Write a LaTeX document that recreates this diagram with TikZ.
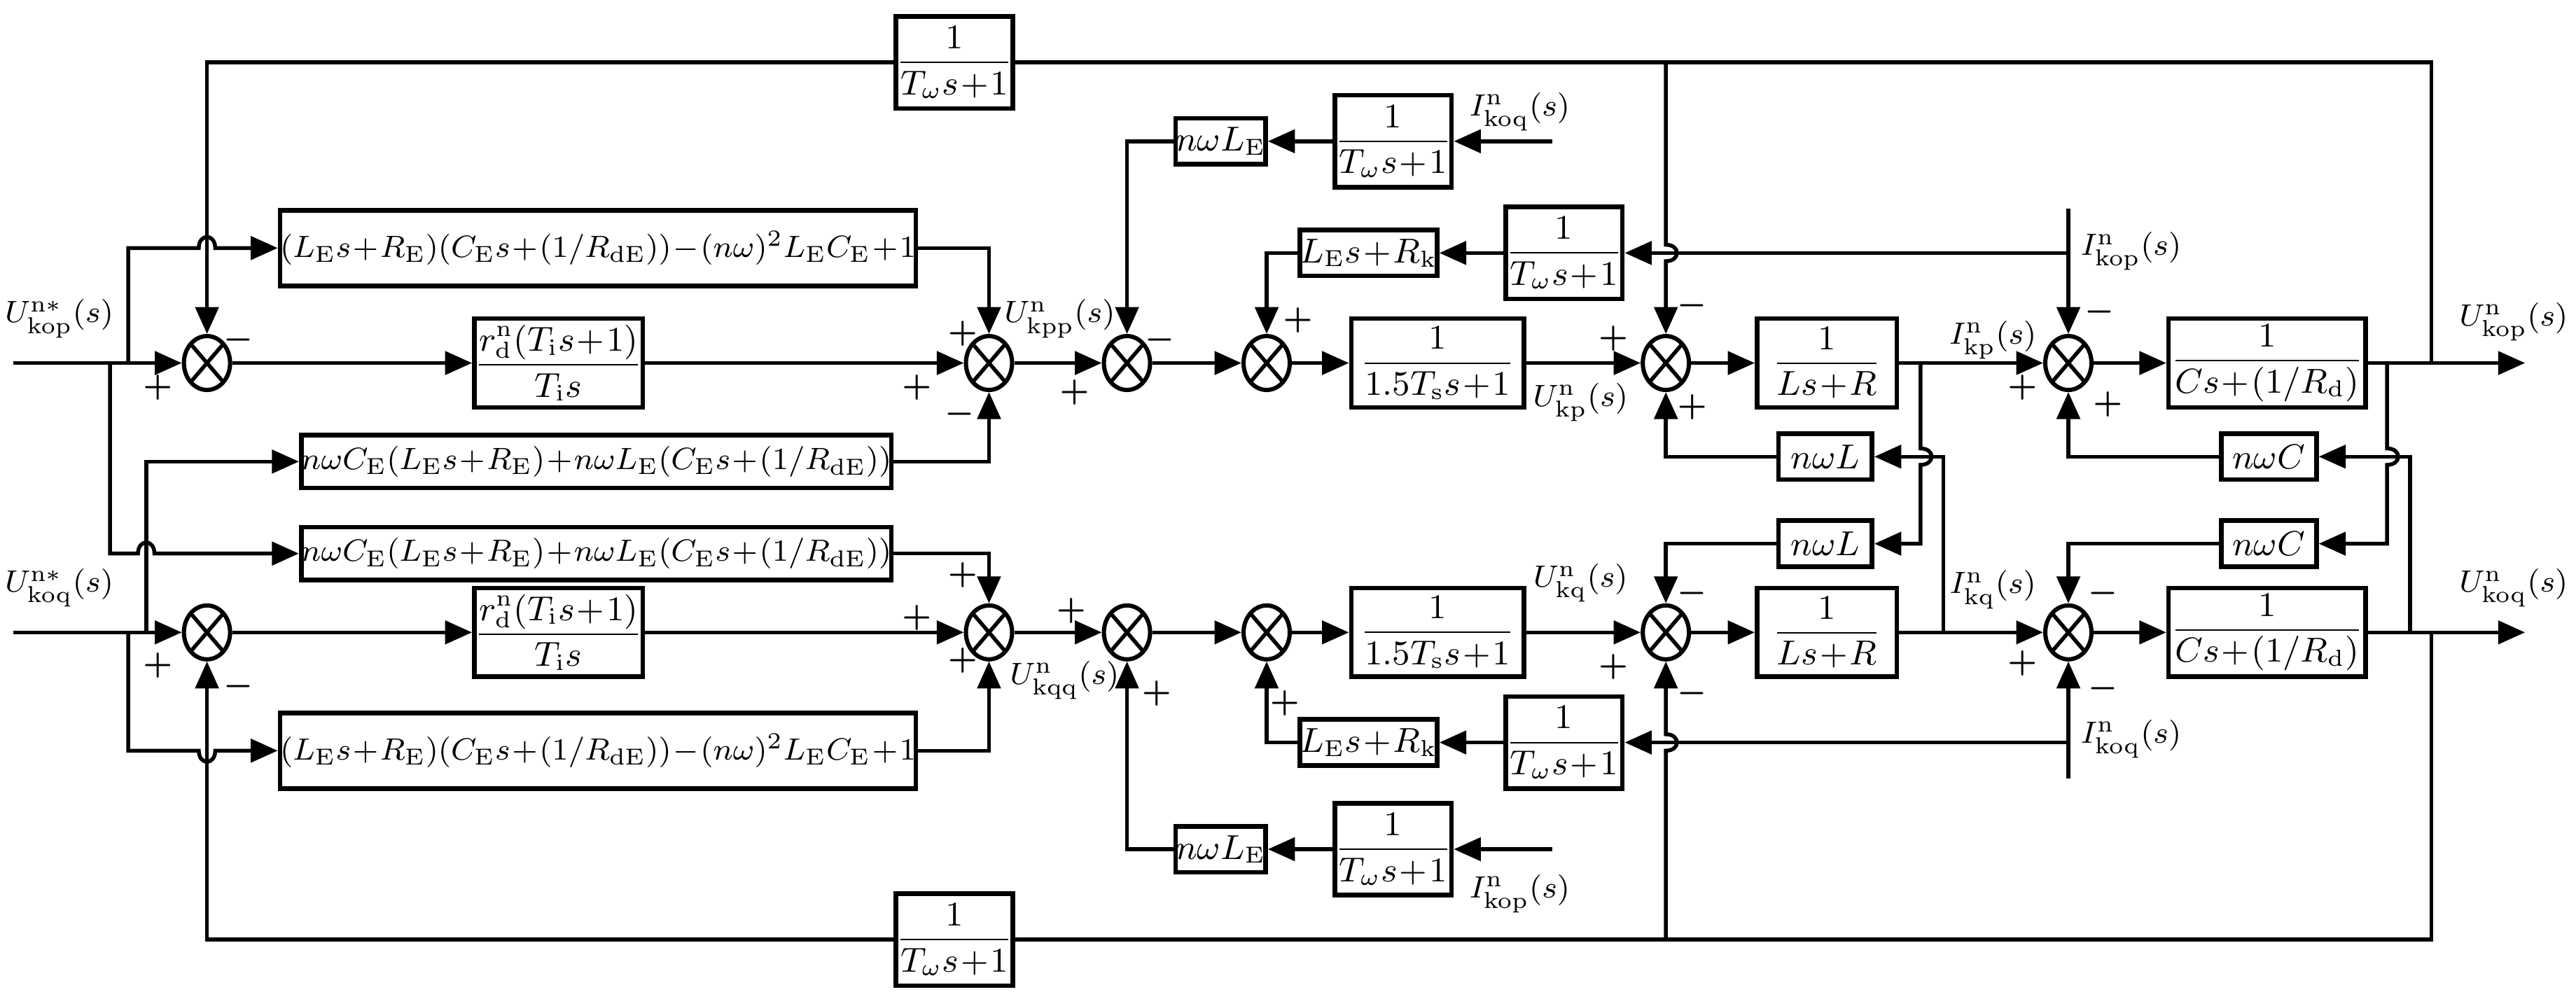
\documentclass[tikz,border=0pt]{standalone}
\usepackage{amsmath,amsbsy}
\usetikzlibrary{arrows.meta,shapes.geometric}
\medmuskip=1mu \thickmuskip=1.5mu
\begin{document}
\begin{tikzpicture}[x=0.015cm,y=-0.015cm,
 line width=1pt, >={Triangle[length=7pt,width=6pt]},
 every node/.style={font=\small},
 blk/.style 2 args={draw,rectangle,inner sep=0pt,line width=1.2pt,minimum width=#1*0.015cm,minimum height=#2*0.015cm},
 wide/.style={font=\footnotesize},
 lab/.style={font=\footnotesize,inner sep=1pt},
 sum/.style={draw,ellipse,minimum width=12pt,minimum height=14pt,inner sep=0pt,line width=1.1pt,
   path picture={\draw[line width=1pt] (path picture bounding box.north west)--(path picture bounding box.south east) (path picture bounding box.south west)--(path picture bounding box.north east);}},
 sg/.style={font=\bfseries\footnotesize,inner sep=0pt}]
\useasboundingbox (0,0) rectangle (1568,608);
% sums
\foreach \n/\x in {1/126,2/602,3/686,4/771,5/1014,6/1259}{
  \node[sum] (s\n P) at (\x,221) {};
  \node[sum] (s\n Q) at (\x,385) {};
}
% blocks
\node[blk={67}{56}] (twT) at (581,38) {$\dfrac{1}{T_\omega s+1}$};
\node[blk={67}{56}] (twB) at (581,572) {$\dfrac{1}{T_\omega s+1}$};
\node[blk={362}{46},wide] (eAP) at (364,151) {$(L_\mathrm{E}s+R_\mathrm{E})(C_\mathrm{E}s+(1/R_\mathrm{dE}))-(n\omega)^2L_\mathrm{E}C_\mathrm{E}+1$};
\node[blk={362}{46},wide] (eAQ) at (364,457) {$(L_\mathrm{E}s+R_\mathrm{E})(C_\mathrm{E}s+(1/R_\mathrm{dE}))-(n\omega)^2L_\mathrm{E}C_\mathrm{E}+1$};
\node[blk={337}{32},wide] (eBP) at (363,281) {$n\omega C_\mathrm{E}(L_\mathrm{E}s+R_\mathrm{E})+n\omega L_\mathrm{E}(C_\mathrm{E}s+(1/R_\mathrm{dE}))$};
\node[blk={337}{32},wide] (eBQ) at (363,337) {$n\omega C_\mathrm{E}(L_\mathrm{E}s+R_\mathrm{E})+n\omega L_\mathrm{E}(C_\mathrm{E}s+(1/R_\mathrm{dE}))$};
\foreach \r/\y in {P/221,Q/385}{
  \node[blk={89}{54}] (ri\r) at (340,\y) {$\dfrac{r_\mathrm{d}^\mathrm{n}(T_\mathrm{i}s+1)}{T_\mathrm{i}s}$};
  \node[blk={105}{54}] (ts\r) at (875,\y) {$\dfrac{1}{1.5T_\mathrm{s}s+1}$};
  \node[blk={85}{54}] (L\r) at (1112,\y) {$\dfrac{1}{Ls+R}$};
  \node[blk={120}{54}] (C\r) at (1380,\y) {$\dfrac{1}{Cs+(1/R_\mathrm{d})}$};
}
\node[blk={47}{28}] (nLEP) at (743,86) {$n\omega L_\mathrm{E}$};
\node[blk={70}{56}] (twIP) at (848,86) {$\dfrac{1}{T_\omega s+1}$};
\node[blk={73}{28}] (RkP) at (833,154) {$L_\mathrm{E}s+R_\mathrm{k}$};
\node[blk={65}{56}] (twkP) at (952,154) {$\dfrac{1}{T_\omega s+1}$};
\node[blk={73}{28}] (RkQ) at (833,452) {$L_\mathrm{E}s+R_\mathrm{k}$};
\node[blk={65}{56}] (twkQ) at (952,452) {$\dfrac{1}{T_\omega s+1}$};
\node[blk={47}{28}] (nLEQ) at (743,517) {$n\omega L_\mathrm{E}$};
\node[blk={70}{56}] (twIQ) at (848,517) {$\dfrac{1}{T_\omega s+1}$};
\node[blk={57}{28}] (nLP) at (1111,278) {$n\omega L$};
\node[blk={57}{28}] (nLQ) at (1111,331) {$n\omega L$};
\node[blk={58}{28}] (nCP) at (1381,278) {$n\omega C$};
\node[blk={58}{28}] (nCQ) at (1381,331) {$n\omega C$};
\coordinate (inP) at (8,221); \coordinate (inQ) at (8,385);
\coordinate (outP) at (1537,221); \coordinate (outQ) at (1537,385);
\coordinate (iqP) at (945,86); \coordinate (ipQ) at (945,517);
% main chains
\foreach \r in {P,Q}{
  \draw[->] (in\r) -- (s1\r.west);
  \draw[->] (s1\r.east) -- (ri\r.west);
  \draw[->] (ri\r.east) -- (s2\r.west);
  \draw[->] (s2\r.east) -- (s3\r.west);
  \draw[->] (s3\r.east) -- (s4\r.west);
  \draw[->] (s4\r.east) -- (ts\r.west);
  \draw[->] (ts\r.east) -- (s5\r.west);
  \draw[->] (s5\r.east) -- (L\r.west);
  \draw[->] (L\r.east) -- (s6\r.west);
  \draw[->] (s6\r.east) -- (C\r.west);
  \draw[->] (C\r.east) -- (out\r);
}
% left taps
\draw[->] (78,221) -- (78,151) -- (121,151) .. controls (121,142) and (131,142) .. (131,151) -- (eAP.west);
\draw[->] (67,221) -- (67,337) -- (84,337) .. controls (84,328) and (94,328) .. (94,337) -- (eBQ.west);
\draw[->] (89,385) -- (89,281) -- (eBP.west);
\draw[->] (78,385) -- (78,457) -- (121,457) .. controls (121,466) and (131,466) .. (131,457) -- (eAQ.west);
\draw[->] (eAP.east) -- (602,151) -- (s2P.north);
\draw[->] (eBP.east) -- (602,281) -- (s2P.south);
\draw[->] (eBQ.east) -- (602,337) -- (s2Q.north);
\draw[->] (eAQ.east) -- (602,457) -- (s2Q.south);
% outer feedback
\draw (1480,221) -- (1480,38) -- (twT.east);
\draw[->] (twT.west) -- (126,38) -- (s1P.north);
\draw (1480,385) -- (1480,572) -- (twB.east);
\draw[->] (twB.west) -- (126,572) -- (s1Q.south);
\draw[->] (1014,38) -- (1014,149) .. controls (1023,149) and (1023,159) .. (1014,159) -- (s5P.north);
\draw[->] (1014,572) -- (1014,457) .. controls (1023,457) and (1023,447) .. (1014,447) -- (s5Q.south);
% decoupling
\draw[->] (iqP) -- (twIP.east);
\draw[->] (twIP.west) -- (nLEP.east);
\draw[->] (nLEP.west) -- (686,86) -- (s3P.north);
\draw[->] (ipQ) -- (twIQ.east);
\draw[->] (twIQ.west) -- (nLEQ.east);
\draw[->] (nLEQ.west) -- (686,517) -- (s3Q.south);
\draw[->] (1259,127) -- (s6P.north);
\draw[->] (1259,154) -- (twkP.east);
\draw[->] (twkP.west) -- (RkP.east);
\draw[->] (RkP.west) -- (771,154) -- (s4P.north);
\draw[->] (1259,474) -- (s6Q.south);
\draw[->] (1259,452) -- (twkQ.east);
\draw[->] (twkQ.west) -- (RkQ.east);
\draw[->] (RkQ.west) -- (771,452) -- (s4Q.south);
% cross coupling
\draw[->] (1169,221) -- (1169,273) .. controls (1178,273) and (1178,283) .. (1169,283) -- (1169,331) -- (nLQ.east);
\draw[->] (1183,385) -- (1183,278) -- (nLP.east);
\draw[->] (nLP.west) -- (1014,278) -- (s5P.south);
\draw[->] (nLQ.west) -- (1014,331) -- (s5Q.north);
\draw[->] (1453,221) -- (1453,273) .. controls (1462,273) and (1462,283) .. (1453,283) -- (1453,331) -- (nCQ.east);
\draw[->] (1467,385) -- (1467,278) -- (nCP.east);
\draw[->] (nCP.west) -- (1259,278) -- (s6P.south);
\draw[->] (nCQ.west) -- (1259,331) -- (s6Q.north);
% labels
\node[lab] (l1) at (36,194) {$U_\mathrm{kop}^\mathrm{n*}(s)$};
\node[lab] (l2) at (36,358) {$U_\mathrm{koq}^\mathrm{n*}(s)$};
\node[lab] (l3) at (645,194) {$U_\mathrm{kpp}^\mathrm{n}(s)$};
\node[lab] (l4) at (648,414) {$U_\mathrm{kqq}^\mathrm{n}(s)$};
\node[lab] (l5) at (962,245) {$U_\mathrm{kp}^\mathrm{n}(s)$};
\node[lab] (l6) at (962,355) {$U_\mathrm{kq}^\mathrm{n}(s)$};
\node[lab] (l7) at (1213,207) {$I_\mathrm{kp}^\mathrm{n}(s)$};
\node[lab] (l8) at (1213,359) {$I_\mathrm{kq}^\mathrm{n}(s)$};
\node[lab] (l9) at (1530,196) {$U_\mathrm{kop}^\mathrm{n}(s)$};
\node[lab] (l10) at (1530,358) {$U_\mathrm{koq}^\mathrm{n}(s)$};
\node[lab,anchor=west] (l11) at (1263,153) {$I_\mathrm{kop}^\mathrm{n}(s)$};
\node[lab,anchor=west] (l12) at (1263,450) {$I_\mathrm{koq}^\mathrm{n}(s)$};
\node[lab] (l13) at (925,68) {$I_\mathrm{koq}^\mathrm{n}(s)$};
\node[lab] (l14) at (925,544) {$I_\mathrm{kop}^\mathrm{n}(s)$};
% signs
\foreach \t/\x/\y in {-/145/207,+/96/236,+/586/203,+/558/236,-/584/252,-/706/207,+/654/239,+/790/195,
  -/1030/186,+/982/206,+/1030/248,-/1278/190,+/1231/236,+/1283/246,
  +/96/405,-/145/418,+/586/350,+/558/376,+/586/402,+/652/372,+/704/422,+/782/428,
  -/1030/361,+/982/406,-/1030/422,-/1280/361,+/1231/404,-/1280/419}
  \node[sg] at (\x,\y) {$\boldsymbol{\t}$};
\end{tikzpicture}
\end{document}
